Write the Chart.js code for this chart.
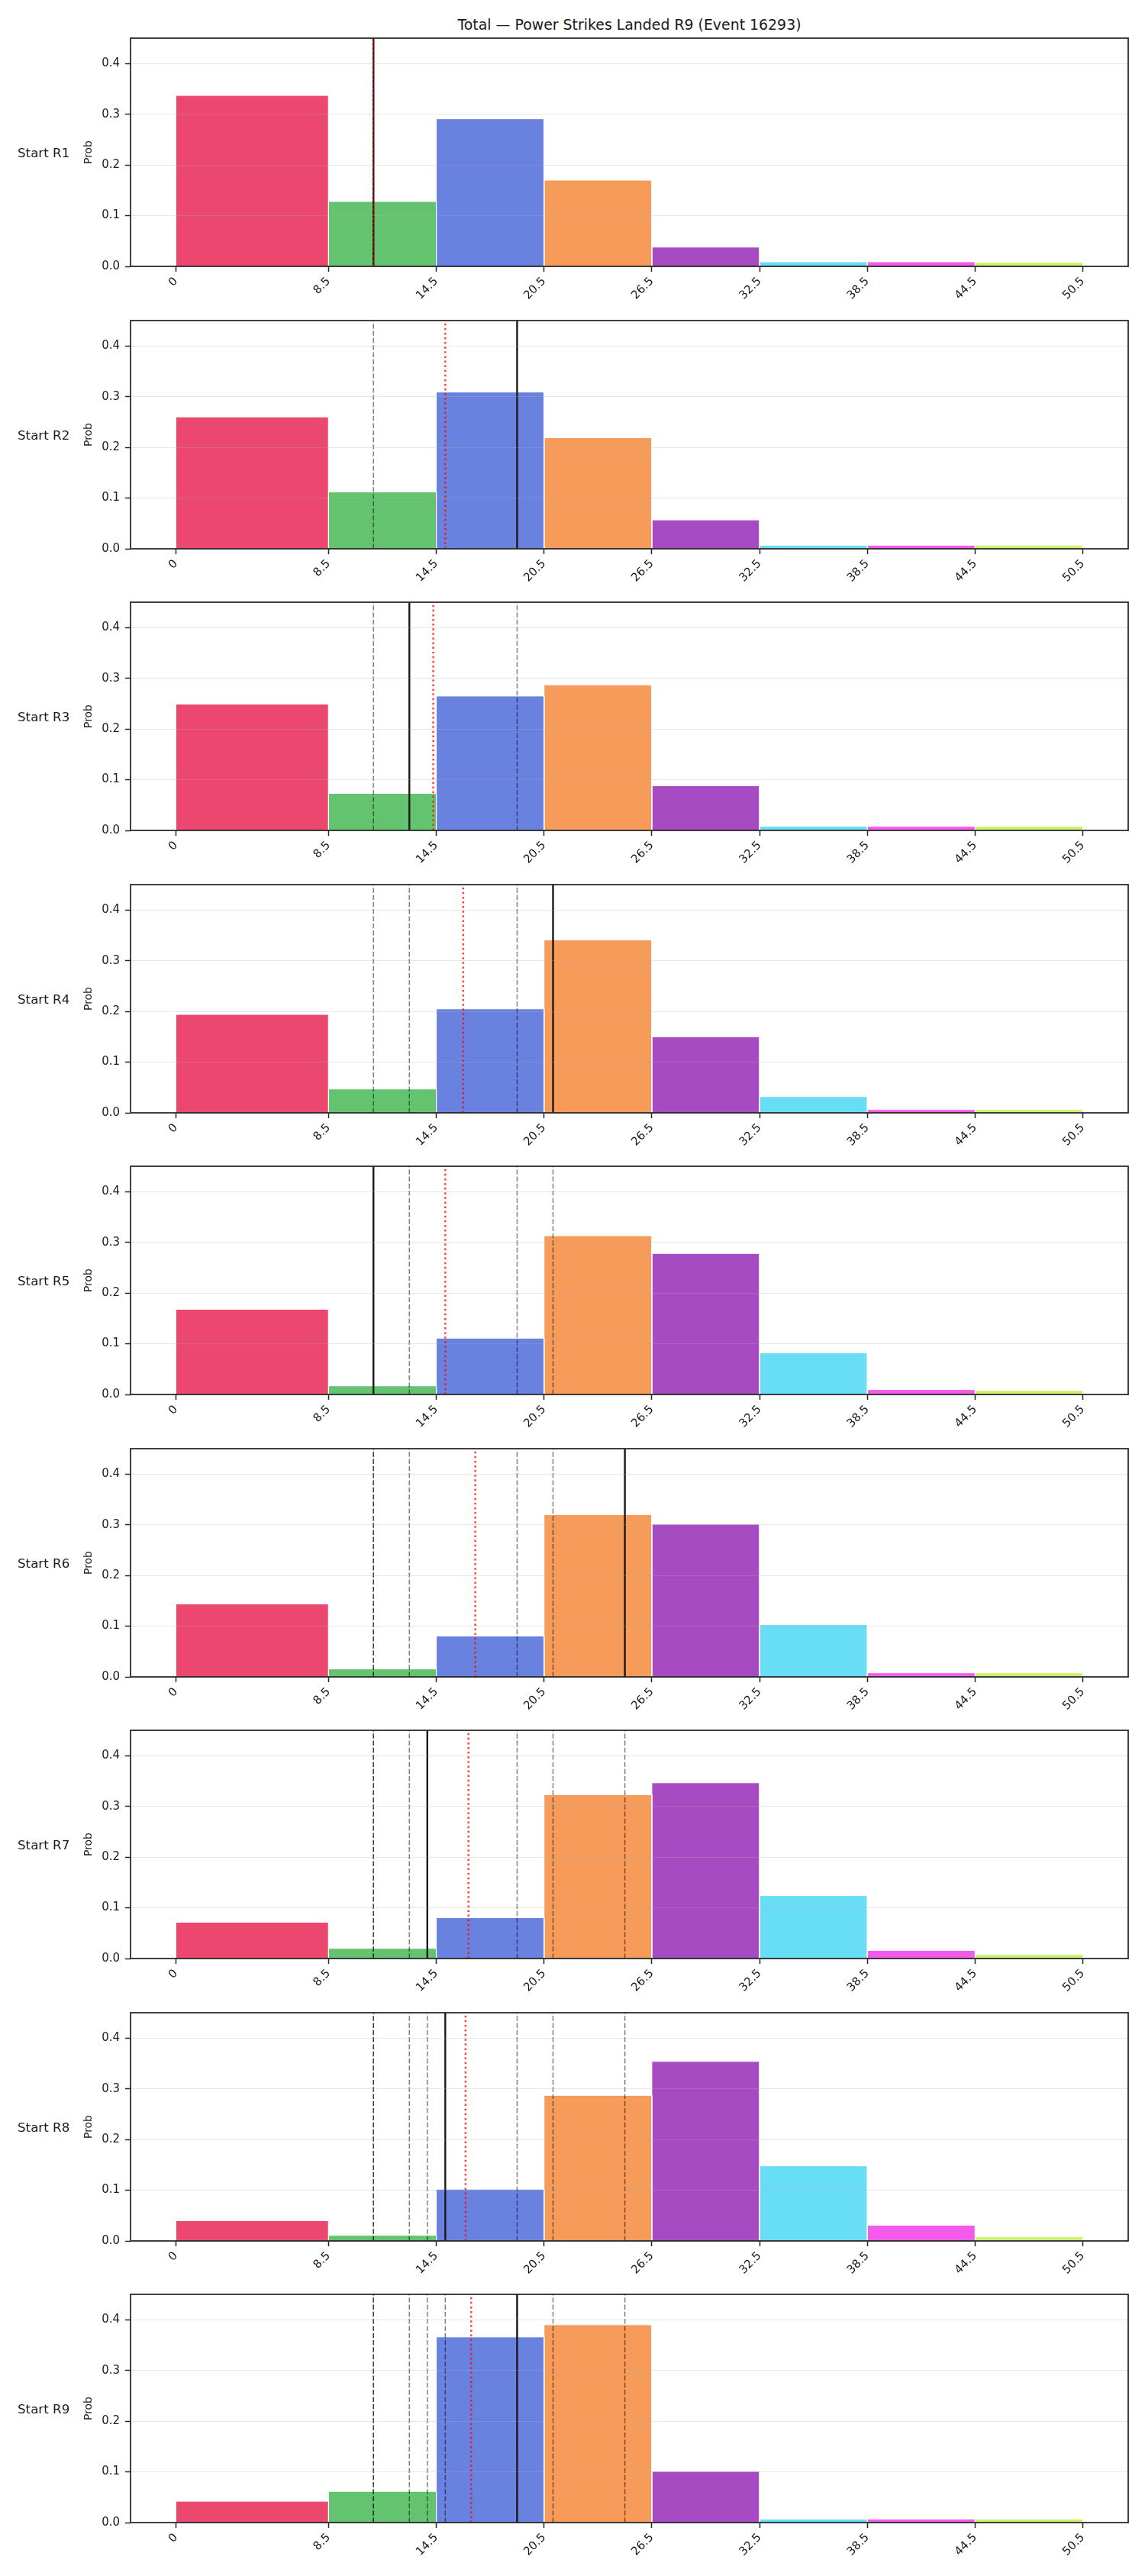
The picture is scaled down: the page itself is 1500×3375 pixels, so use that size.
<!DOCTYPE html>
<html>
<head>
<meta charset="utf-8">
<title>Total — Power Strikes Landed R9 (Event 16293)</title>
<script src="https://cdn.jsdelivr.net/npm/chart.js@4.4.1/dist/chart.umd.min.js"></script>
<style>
  body { margin: 0; background: #fff; font-family: "DejaVu Sans", sans-serif; color: #1a1a1a; }
  #page { position: relative; width: 1500px; height: 3375px; overflow: hidden; }
  #page canvas { position: absolute; left: 0; }
  .titulo { position: absolute; left: 171px; width: 1307px; top: 21px; text-align: center; font-size: 18.9px; line-height: 22px; }
  .ronda { position: absolute; left: 23px; font-size: 16.7px; line-height: 20px; white-space: nowrap; }
</style>
</head>
<body>
<div id="page">
  <div class="titulo">Total — Power Strikes Landed R9 (Event 16293)</div>
</div>
<script>
// bins of the histogram (edges) and axis ticks
const binEdges = [0, 8.5, 14.5, 20.5, 26.5, 32.5, 38.5, 44.5, 50.5];
const xTickValues = [0, 8.5, 14.5, 20.5, 26.5, 32.5, 38.5, 44.5, 50.5];
const xTickLabels = ['0', '8.5', '14.5', '20.5', '26.5', '32.5', '38.5', '44.5', '50.5'];
const yTickValues = [0, 0.1, 0.2, 0.3, 0.4];
const roundLabels = ['Start R1', 'Start R2', 'Start R3', 'Start R4', 'Start R5', 'Start R6', 'Start R7', 'Start R8', 'Start R9'];

// probability per bin, one array per starting round
const probR1 = [0.337, 0.128, 0.291, 0.170, 0.038, 0.009, 0.009, 0.008];
const probR2 = [0.260, 0.112, 0.309, 0.219, 0.057, 0.007, 0.007, 0.007];
const probR3 = [0.249, 0.073, 0.265, 0.287, 0.088, 0.008, 0.008, 0.008];
const probR4 = [0.194, 0.047, 0.205, 0.341, 0.150, 0.032, 0.0065, 0.0065];
const probR5 = [0.168, 0.017, 0.111, 0.313, 0.278, 0.082, 0.0096, 0.008];
const probR6 = [0.144, 0.0156, 0.0805, 0.320, 0.301, 0.103, 0.008, 0.008];
const probR7 = [0.0715, 0.020, 0.0805, 0.323, 0.3465, 0.124, 0.016, 0.008];
const probR8 = [0.040, 0.011, 0.102, 0.287, 0.354, 0.148, 0.031, 0.008];
const probR9 = [0.042, 0.0615, 0.366, 0.390, 0.101, 0.007, 0.007, 0.007];

// actual value of each round (black line, later dashed) and the running mean (red dotted)
const roundActual = [11, 19, 13, 21, 11, 25, 14, 15, 19];
const runningMean = [11, 15, 14.33, 16, 15, 16.67, 16.29, 16.13, 16.44];

const roundProbs = [probR1, probR2, probR3, probR4, probR5, probR6, probR7, probR8, probR9];
const binColors = ['#eb476f', '#63c36f', '#6982e0', '#f79b5a', '#a74bc3', '#68ddf6', '#f35beb', '#ccf26b'];

const yMax = 0.45;
const xMin = -2.525;
const xMax = 53.025;
const textColor = '#1a1a1a';
const spineColor = '#262626';
const tickFont = { family: 'DejaVu Sans', size: 15 };

const marcoEjes = {
    id: 'marcoEjes',
    afterDraw(chart) {
        const { ctx, chartArea: a } = chart;
        ctx.save();
        ctx.strokeStyle = spineColor;
        ctx.lineWidth = 1.75;
        ctx.strokeRect(a.left, a.top, a.right - a.left, a.bottom - a.top);
        ctx.restore();
    }
};

function lineaVertical(x, style, order) {
    return Object.assign({
        data: [{ x: x, y: 0 }, { x: x, y: yMax }],
        pointRadius: 0,
        fill: false,
        tension: 0,
        order: order
    }, style);
}

function crearPanel(i) {
    const page = document.getElementById('page');
    const top = Math.round(30 + 369.5 * i);

    const canvas = document.createElement('canvas');
    canvas.width = 1500;
    canvas.height = 369;
    canvas.style.width = '1500px';
    canvas.style.height = '369px';
    canvas.style.top = top + 'px';
    page.appendChild(canvas);

    const etiqueta = document.createElement('div');
    etiqueta.className = 'ronda';
    etiqueta.textContent = roundLabels[i];
    etiqueta.style.top = (top + 20 + 149.5 - 10) + 'px';
    page.appendChild(etiqueta);

    const datasets = [];

    datasets.push(lineaVertical(runningMean[i], {
        borderColor: 'rgba(255, 0, 0, 0.75)',
        borderWidth: 2.5,
        borderDash: [2.5, 3.6]
    }, 0));

    datasets.push(lineaVertical(roundActual[i], {
        borderColor: '#1a1a1a',
        borderWidth: 2.4
    }, 1));

    for (let r = 0; r < i; r++) {
        datasets.push(lineaVertical(roundActual[r], {
            borderColor: 'rgba(0, 0, 0, 0.5)',
            borderWidth: 1.5,
            borderDash: [6.5, 2.8]
        }, 2));
    }

    const probs = roundProbs[i];
    for (let b = 0; b < probs.length; b++) {
        const lo = binEdges[b];
        const hi = binEdges[b + 1];
        datasets.push({
            data: [{ x: lo, y: 0 }, { x: lo, y: probs[b] }, { x: hi, y: probs[b] }, { x: hi, y: 0 }],
            backgroundColor: binColors[b],
            borderColor: '#ffffff',
            borderWidth: 1,
            pointRadius: 0,
            tension: 0,
            fill: 'origin',
            order: 3
        });
    }

    new Chart(canvas, {
        type: 'line',
        data: { datasets: datasets },
        plugins: [marcoEjes],
        options: {
            responsive: false,
            maintainAspectRatio: false,
            devicePixelRatio: 1,
            animation: false,
            layout: { padding: { left: 104, right: 22, top: 20, bottom: 0 } },
            plugins: {
                legend: { display: false },
                tooltip: { enabled: false }
            },
            scales: {
                x: {
                    type: 'linear',
                    min: xMin,
                    max: xMax,
                    afterBuildTicks: function (scale) {
                        scale.ticks = xTickValues.map(function (v) { return { value: v }; });
                    },
                    afterFit: function (scale) { scale.height = 50; },
                    border: { display: false },
                    grid: {
                        drawOnChartArea: false,
                        drawTicks: true,
                        tickLength: 7,
                        tickWidth: 1.5,
                        tickColor: spineColor
                    },
                    ticks: {
                        autoSkip: false,
                        minRotation: 45,
                        maxRotation: 45,
                        padding: 4,
                        color: textColor,
                        font: tickFont,
                        callback: function (value, index) { return xTickLabels[index]; }
                    }
                },
                y: {
                    min: 0,
                    max: yMax,
                    afterBuildTicks: function (scale) {
                        scale.ticks = yTickValues.map(function (v) { return { value: v }; });
                    },
                    afterFit: function (scale) { scale.width = 67; },
                    border: { display: false },
                    grid: {
                        z: 1,
                        color: 'rgba(176, 176, 176, 0.3)',
                        lineWidth: 1,
                        drawTicks: true,
                        tickLength: 7,
                        tickWidth: 1.5,
                        tickColor: spineColor
                    },
                    ticks: {
                        padding: 7,
                        color: textColor,
                        font: tickFont,
                        callback: function (value) { return value.toFixed(1); }
                    },
                    title: {
                        display: true,
                        text: 'Prob',
                        color: textColor,
                        font: { family: 'DejaVu Sans', size: 13.9 }
                    }
                }
            }
        }
    });
}

document.addEventListener('DOMContentLoaded', function () {
    for (let i = 0; i < roundProbs.length; i++) {
        crearPanel(i);
    }
});
</script>
</body>
</html>
